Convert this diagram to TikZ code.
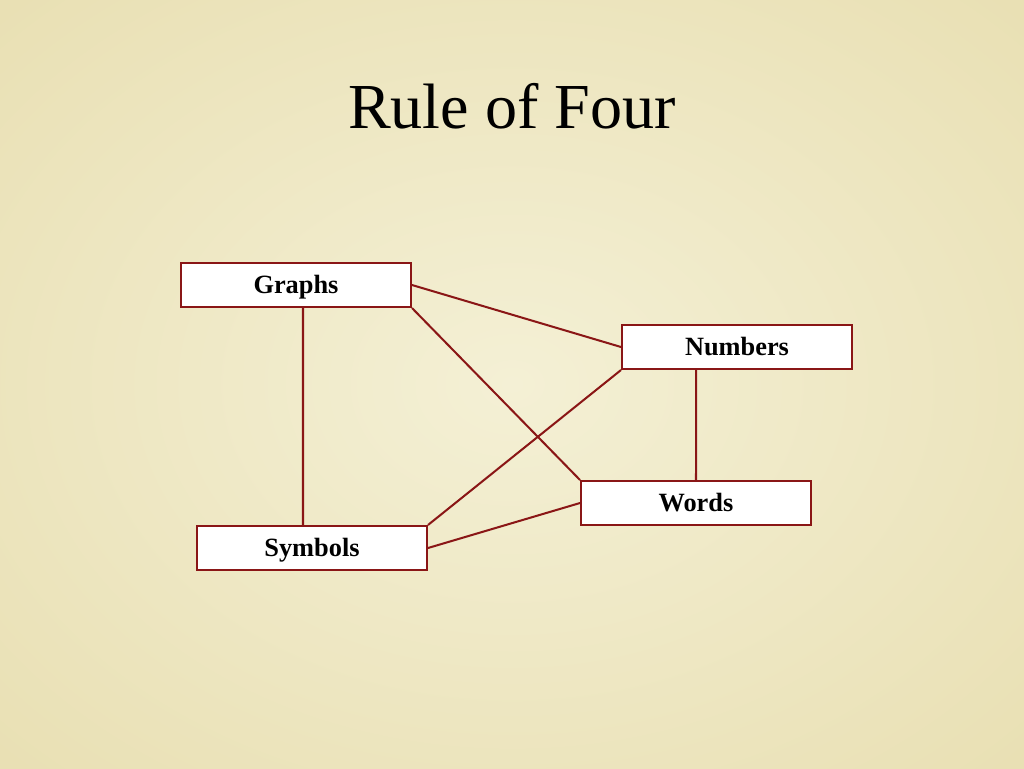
\documentclass[tikz,border=0pt]{standalone}
\usepackage{fontspec}
\setmainfont{Liberation Serif}
\definecolor{bgin}{RGB}{244,240,213}
\definecolor{bgout}{RGB}{233,224,180}
\definecolor{boxred}{RGB}{138,22,22}
\tikzset{
  item/.style={draw=boxred, line width=1.15pt, fill=white, rectangle,
    minimum width=4.6cm, minimum height=0.88cm, inner sep=0pt,
    text height=0.34cm, text depth=0pt,
    font=\fontsize{15}{18}\selectfont\bfseries},
  link/.style={draw=boxred, line width=1.15pt}
}
\begin{document}
\begin{tikzpicture}[x=0.02cm, y=-0.02cm]
\useasboundingbox (0,0) rectangle (1024,768);
\shade[inner color=bgin, outer color=bgout] (-200,-150) rectangle (1224,918);
\node[anchor=base, font=\fontsize{36.5}{44}\selectfont] (title) at (512,128) {Rule of Four};
\node[item] (G) at (296,285) {Graphs};
\node[item] (N) at (737,347) {Numbers};
\node[item] (W) at (696,503) {Words};
\node[item] (S) at (312,548) {Symbols};
\draw[link] (G.east) -- (N.west);
\draw[link] (G.south east) -- (W.north west);
\draw[link] ([xshift=0.14cm]G.south) -- ([xshift=-0.18cm]S.north);
\draw[link] (N.south west) -- (S.north east);
\draw[link] ([xshift=-0.82cm]N.south) -- (W.north);
\draw[link] (W.west) -- (S.east);
\end{tikzpicture}
\end{document}
